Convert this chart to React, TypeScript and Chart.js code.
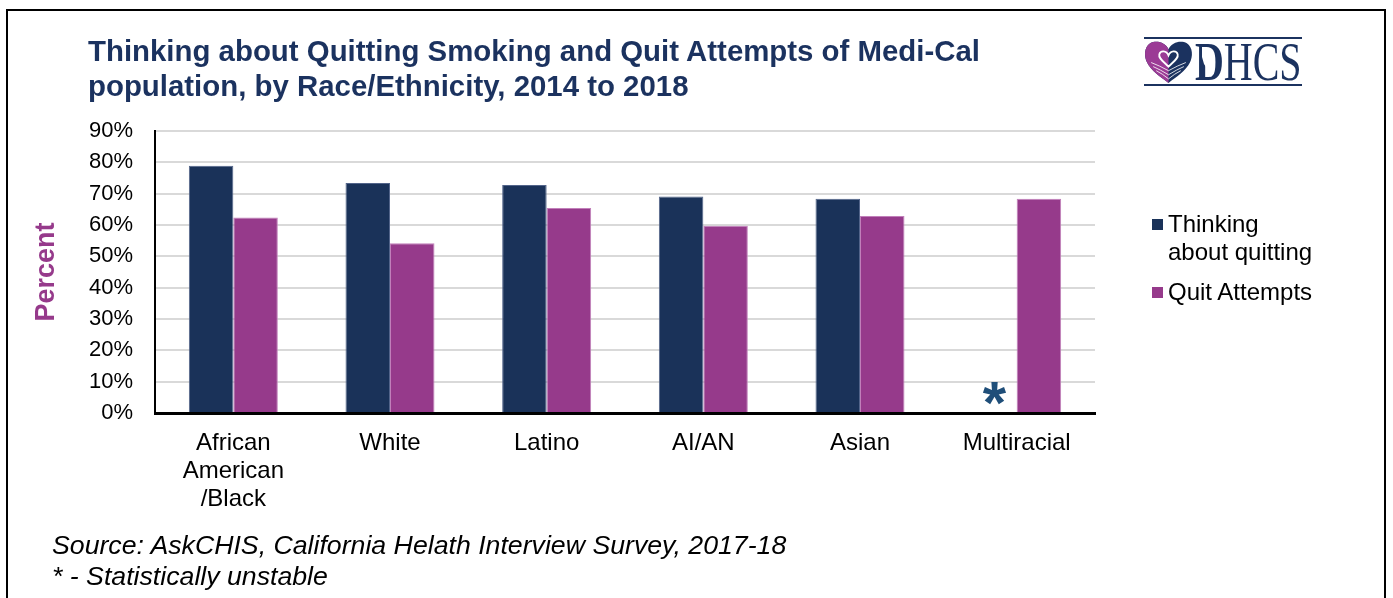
import React, { useEffect, useRef } from "react";
import { Chart, registerables } from "chart.js";

Chart.register(...registerables);

// ---- data ----
const categories: (string | string[])[] = [
  ["African", "American", "/Black"],
  "White",
  "Latino",
  "AI/AN",
  "Asian",
  "Multiracial",
];
const thinkingAboutQuitting: (number | null)[] = [78.9, 73.4, 72.8, 69.1, 68.4, null];
const quitAttempts: number[] = [62.4, 54.2, 65.4, 59.8, 62.9, 68.4];
const statisticallyUnstable: boolean[] = [false, false, false, false, false, true];
const seriesNames = ["Thinking about quitting", "Quit Attempts"];
const legendLines = [["Thinking", "about quitting"], ["Quit Attempts"]];
const yMin = 0;
const yMax = 90;
const yStep = 10;
const titleLines = [
  "Thinking about Quitting Smoking and Quit Attempts of Medi-Cal",
  "population, by Race/Ethnicity, 2014 to 2018",
];
const footnotes = [
  "Source: AskCHIS, California Helath Interview Survey, 2017-18",
  "* - Statistically unstable",
];

const NAVY = "#1a3259";
const PURPLE = "#963a8b";
const FONT = '"Liberation Sans", Arial, Helvetica, sans-serif';

const unstablePlugin = {
  id: "unstableMarks",
  afterDatasetsDraw(chart: any) {
    const ctx = chart.ctx;
    const metaQ = chart.getDatasetMeta(1);
    const y0 = chart.scales.y.getPixelForValue(0);
    statisticallyUnstable.forEach((u, i) => {
      if (!u) return;
      const bar = metaQ.data[i];
      if (!bar) return;
      const x = bar.x - bar.width;
      ctx.save();
      ctx.font = `bold 60px ${FONT}`;
      ctx.fillStyle = "#1f4e79";
      ctx.textAlign = "center";
      ctx.textBaseline = "alphabetic";
      ctx.fillText("*", x, y0 + 9.5);
      ctx.restore();
    });
  },
};

export default function App() {
  const canvasRef = useRef<HTMLCanvasElement | null>(null);

  useEffect(() => {
    const canvas = canvasRef.current;
    if (!canvas) return;
    const chart = new Chart(canvas, {
      type: "bar",
      data: {
        labels: categories as any,
        datasets: [
          {
            label: seriesNames[0],
            data: thinkingAboutQuitting as any,
            backgroundColor: NAVY,
            borderColor: "#52648a",
            borderWidth: 1,
            categoryPercentage: 0.568,
            barPercentage: 1,
          },
          {
            label: seriesNames[1],
            data: quitAttempts,
            backgroundColor: PURPLE,
            borderColor: "#c17fba",
            borderWidth: 1,
            categoryPercentage: 0.568,
            barPercentage: 1,
          },
        ],
      },
      options: {
        responsive: false,
        animation: false,
        devicePixelRatio: 1,
        layout: { padding: { left: 0, top: 131, right: 298, bottom: 0 } },
        plugins: {
          legend: { display: false },
          title: { display: false },
          tooltip: { enabled: false },
        },
        scales: {
          x: {
            grid: { display: false, drawTicks: false },
            border: { display: true, color: "#000000", width: 3 },
            ticks: {
              color: "#000000",
              font: { family: FONT, size: 24, lineHeight: 28 / 24 },
              padding: 16,
              maxRotation: 0,
              autoSkip: false,
            },
            afterFit(scale: any) {
              scale.height = 185;
            },
          },
          y: {
            min: yMin,
            max: yMax,
            grid: { color: "#d9d9d9", lineWidth: 2, drawTicks: false },
            border: { display: true, color: "#000000", width: 2 },
            ticks: {
              stepSize: yStep,
              color: "#000000",
              font: { family: FONT, size: 22 },
              padding: 22,
              callback: (v: any) => `${v}%`,
            },
            title: {
              display: true,
              text: "Percent",
              color: PURPLE,
              font: { family: FONT, size: 27, weight: "bold" },
              padding: { top: 30, bottom: 0 },
            },
            afterFit(scale: any) {
              scale.width = 155;
            },
          },
        },
      },
      plugins: [unstablePlugin],
    });
    return () => chart.destroy();
  }, []);

  const colors = [NAVY, PURPLE];

  return (
    <div
      style={{
        position: "absolute",
        left: 0,
        top: 0,
        width: 1393,
        height: 598,
        overflow: "hidden",
        background: "#ffffff",
        fontFamily: FONT,
      }}
    >
      <div
        style={{
          position: "absolute",
          left: 6,
          top: 9,
          width: 1380,
          height: 620,
          border: "2px solid #000",
          boxSizing: "border-box",
        }}
      />
      <canvas
        ref={canvasRef}
        width={1393}
        height={598}
        style={{ position: "absolute", left: 0, top: 0, width: 1393, height: 598 }}
      />
      {/* Title */}
      <div
        style={{
          position: "absolute",
          left: 88,
          top: 33,
          fontSize: 29.4,
          lineHeight: "35px",
          fontWeight: "bold",
          color: "#1b325f",
          whiteSpace: "nowrap",
        }}
      >
        {titleLines.map((t, i) => (
          <div key={i}>{t}</div>
        ))}
      </div>
      {/* Legend */}
      {legendLines.map((lines, i) => (
        <div
          key={i}
          style={{
            position: "absolute",
            left: 1152,
            top: i === 0 ? 210 : 278,
            whiteSpace: "nowrap",
          }}
        >
          <div
            style={{
              position: "absolute",
              left: 0,
              top: 9,
              width: 11,
              height: 11,
              background: colors[i],
            }}
          />
          <div style={{ marginLeft: 16, fontSize: 24, lineHeight: "28px", color: "#000" }}>
            {lines.map((l, j) => (
              <div key={j}>{l}</div>
            ))}
          </div>
        </div>
      ))}
      {/* Footnotes */}
      <div
        style={{
          position: "absolute",
          left: 52,
          top: 530,
          fontSize: 26.7,
          lineHeight: "31px",
          fontStyle: "italic",
          color: "#000",
          whiteSpace: "nowrap",
        }}
      >
        {footnotes.map((t, i) => (
          <div key={i}>{t}</div>
        ))}
      </div>
      {/* DHCS logo */}
      <div style={{ position: "absolute", left: 1144, top: 37, width: 158, height: 2, background: "#1b325f" }} />
      <div style={{ position: "absolute", left: 1144, top: 84, width: 158, height: 2, background: "#1b325f" }} />
      <svg
        style={{ position: "absolute", left: 1144, top: 40 }}
        width={49}
        height={43}
        viewBox="0 0 48 42"
      >
        <defs>
          <clipPath id="leftHalf">
            <rect x="0" y="0" width="24" height="42" />
          </clipPath>
        </defs>
        <path
          d="M24 9 C21 2 12 0 6 3 C0 7 0 16 3 22 C7 30 16 36 24 42 C32 36 41 30 45 22 C48 16 48 7 42 3 C36 0 27 2 24 9 Z"
          fill="#1b325f"
        />
        <path
          d="M24 9 C21 2 12 0 6 3 C0 7 0 16 3 22 C7 30 16 36 24 42 C32 36 41 30 45 22 C48 16 48 7 42 3 C36 0 27 2 24 9 Z"
          fill="#9b3b95"
          clipPath="url(#leftHalf)"
        />
        <path
          d="M24 15 C22 10 16 10 15 14 C14 18 19 21 24 26 C29 21 34 18 33 14 C32 10 26 10 24 15 Z"
          fill="none"
          stroke="#ffffff"
          strokeWidth="1.8"
        />
        <path d="M7 22 Q15 25 24 30 Q33 25 41 22" fill="none" stroke="#ffffff" strokeWidth="0.8" />
        <path d="M9 26 Q16 29 24 34 Q32 29 39 26" fill="none" stroke="#ffffff" strokeWidth="0.8" />
        <path d="M12 30 Q18 33 24 38 Q30 33 36 30" fill="none" stroke="#ffffff" strokeWidth="0.8" />
      </svg>
      <div
        style={{
          position: "absolute",
          left: 1195,
          top: 35,
          fontFamily: '"Liberation Serif", "Times New Roman", serif',
          fontSize: 54,
          lineHeight: "54px",
          color: "#1b325f",
          whiteSpace: "nowrap",
          transform: "scaleX(0.74)",
          transformOrigin: "left top",
        }}
      >
        <span style={{ fontWeight: "bold" }}>D</span>HCS
      </div>
      <svg style={{ position: "absolute", left: 1200, top: 46 }} width={16} height={34} viewBox="0 0 16 34">
        <path d="M2 1 L7 1 L7 9 L13 19 L14 26 L11 31 L9 28 L8 24 L4 18 L2 11 Z" fill="#ffffff" />
      </svg>
    </div>
  );
}
